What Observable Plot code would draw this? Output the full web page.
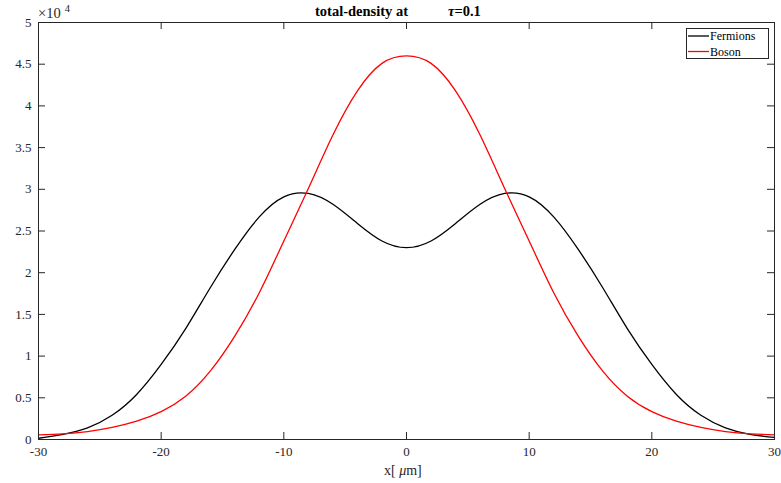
<!DOCTYPE html>
<html>
<head>
<meta charset="utf-8">
<script src="https://cdn.jsdelivr.net/npm/d3@7"></script>
<script src="https://cdn.jsdelivr.net/npm/@observablehq/plot@0.6"></script>
<style>
  html, body { margin: 0; padding: 0; background: #fff; }
  svg { display: block; }
</style>
</head>
<body>
<div id="chart"></div>
<script>
// positions in micrometres
const xPos = [-30,-28,-26,-24,-22,-20,-18,-16,-14,-12,-10,-8,-6,-4,-2,0,
              2,4,6,8,10,12,14,16,18,20,22,24,26,28,30];
// densities in units of 10^4
const fermions = [0.015,0.062,0.14,0.29,0.54,0.90,1.33,1.82,2.28,2.67,2.91,2.95,2.82,2.59,2.38,2.30,
                  2.38,2.59,2.82,2.95,2.91,2.67,2.28,1.82,1.33,0.90,0.54,0.29,0.14,0.062,0.025];
const boson = [0.055,0.068,0.095,0.145,0.22,0.335,0.52,0.82,1.24,1.76,2.38,3.01,3.65,4.18,4.51,4.60,
               4.51,4.18,3.65,3.01,2.38,1.76,1.24,0.82,0.52,0.335,0.22,0.145,0.095,0.068,0.056];
const seriesNames = ["Fermions", "Boson"];
const seriesColors = ["#000000", "#ff0000"];
const xTicks = [-30,-20,-10,0,10,20,30];
const yTicks = [0,0.5,1,1.5,2,2.5,3,3.5,4,4.5,5];

const rows = [];
xPos.forEach((x, i) => {
  rows.push({x, y: fermions[i], s: seriesNames[0]});
  rows.push({x, y: boson[i], s: seriesNames[1]});
});

const W = 781, H = 483, mL = 38, mR = 7, mT = 22, mB = 44;
const plotW = W - mL - mR, plotH = H - mT - mB;
const axisColor = "#262626";
const font = "Liberation Serif, Times New Roman, serif";

const chart = Plot.plot({
  width: W, height: H,
  marginLeft: mL, marginRight: mR, marginTop: mT, marginBottom: mB,
  style: {fontFamily: font, fontSize: "13px", background: "#fff", color: axisColor},
  x: {domain: [-30, 30]},
  y: {domain: [0, 5]},
  color: {domain: seriesNames, range: seriesColors},
  marks: [
    Plot.line(rows, {x: "x", y: "y", z: "s", stroke: "s", strokeWidth: 1.3, curve: "natural"}),
    Plot.tickX(xTicks, {x: d => d, insetTop: plotH - 7, stroke: axisColor}),
    Plot.tickX(xTicks, {x: d => d, insetBottom: plotH - 7, stroke: axisColor}),
    Plot.tickY(yTicks, {y: d => d, insetRight: plotW - 7, stroke: axisColor}),
    Plot.tickY(yTicks, {y: d => d, insetLeft: plotW - 7, stroke: axisColor}),
    Plot.frame({stroke: axisColor, strokeWidth: 1}),
    Plot.axisX(xTicks, {tickSize: 0, tickPadding: 7, label: null, tickFormat: d => String(d), fill: axisColor}),
    Plot.axisY(yTicks, {tickSize: 0, tickPadding: 7, label: null, tickFormat: d => String(d), fill: axisColor})
  ]
});

const svg = d3.select(chart);
// exponent label
const ex = svg.append("text").attr("x", 38).attr("y", 18).attr("text-anchor", "start")
  .attr("font-family", font).attr("font-size", 14.5).attr("fill", axisColor);
ex.append("tspan").text("×10");
ex.append("tspan").attr("dx", 4).attr("dy", -6).attr("font-size", 10.5).text("4");
// title
svg.append("text").attr("x", 315).attr("y", 16).attr("text-anchor", "start")
  .attr("font-family", font).attr("font-size", 14.5).attr("font-weight", "bold").attr("fill", "#000")
  .text("total-density at");
const t2 = svg.append("text").attr("x", 448).attr("y", 16).attr("text-anchor", "start")
  .attr("font-family", font).attr("font-size", 14.5).attr("font-weight", "bold").attr("fill", "#000");
t2.append("tspan").attr("font-style", "italic").text("τ");
t2.append("tspan").text("=0.1");
// x label
const xl = svg.append("text").attr("x", 384).attr("y", 475).attr("text-anchor", "start")
  .attr("font-family", font).attr("font-size", 14).attr("fill", axisColor);
xl.append("tspan").text("x[ ");
xl.append("tspan").attr("font-style", "italic").text("μ");
xl.append("tspan").text("m]");
// legend
const lg = svg.append("g");
lg.append("rect").attr("x", 686.5).attr("y", 28.5).attr("width", 82).attr("height", 30)
  .attr("fill", "#fff").attr("stroke", axisColor).attr("stroke-width", 1);
seriesNames.forEach((name, i) => {
  const yy = 36 + i * 15.5;
  lg.append("line").attr("x1", 688).attr("x2", 709).attr("y1", yy).attr("y2", yy)
    .attr("stroke", seriesColors[i]).attr("stroke-width", 1.3);
  lg.append("text").attr("x", 710).attr("y", yy + 4).attr("text-anchor", "start")
    .attr("font-family", font).attr("font-size", 12)
    .attr("fill", "#000").text(name);
});

document.getElementById("chart").appendChild(chart);
</script>
</body>
</html>
